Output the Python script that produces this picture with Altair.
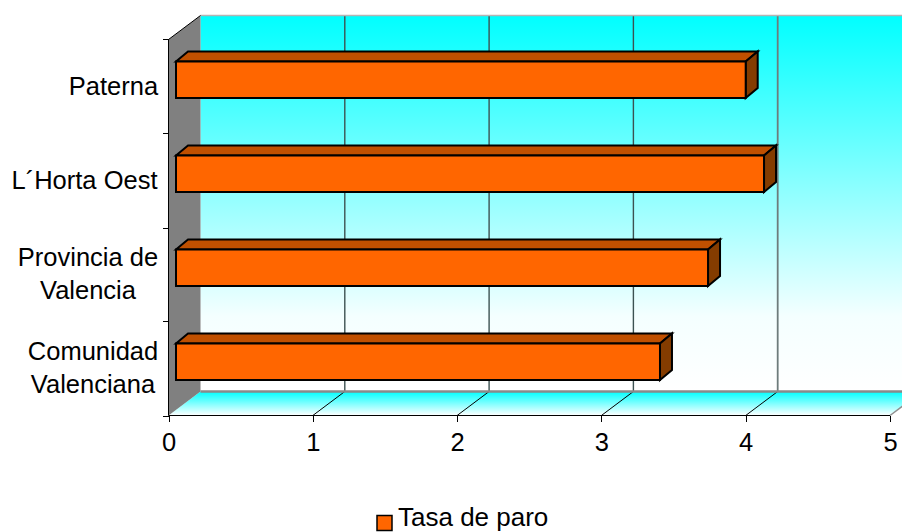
import altair as alt
import pandas as pd

# --- data ---
categories = ["Comunidad\nValenciana", "Provincia de\nValencia", "L´Horta Oest", "Paterna"]
values = [3.354, 3.687, 4.075, 3.948]
series_name = "Tasa de paro"
x_ticks = [0, 1, 2, 3, 4, 5]
y_ticks = [0, 1, 2, 3, 4]

# --- layout (scale calibration and pseudo-3D depth) ---
W, H = 894, 524
PX_PER_X, PX_PER_Y = 144.3, 94.0
X0_PX, Y0_PX = 160.5, 407.5
FONT = "Liberation Sans"
FS = 25.5
LINE_H = 33
DX, DY = 32 / PX_PER_X, 24 / PX_PER_Y            # wall depth
BDX, BDY = 12 / PX_PER_X, 10 / PX_PER_Y          # bar depth
BX0 = 7.5 / PX_PER_X                             # bar start
BY0, BH = 35.5 / PX_PER_Y, 36.6 / PX_PER_Y       # bar bottom, height
label_center_px = [85, 80, 76.5, 105.5]          # canvas px of each label block's centre

xs = alt.Scale(domain=[-X0_PX / PX_PER_X, (W - X0_PX) / PX_PER_X], range=[0, W], nice=False, zero=False)
ys = alt.Scale(domain=[(Y0_PX - H) / PX_PER_Y, Y0_PX / PX_PER_Y], range=[H, 0], nice=False, zero=False)

x_axis = alt.Axis(
    values=x_ticks, title=None, domain=False, grid=False, orient="bottom",
    offset=Y0_PX - H, tickSize=6, tickColor="black", labelFont=FONT, labelFontSize=FS,
    labelColor="black", labelPadding=9, labelFlush=False, labelOverlap=False,
    format="d", zindex=1)
y_axis = alt.Axis(
    values=y_ticks, title=None, domain=False, grid=False, orient="left",
    offset=-X0_PX, tickSize=6, tickColor="black", labels=False, zindex=1)


def X(f="x"):
    return alt.X(f, type="quantitative", scale=xs, axis=x_axis, stack=None)


def Y(f="y"):
    return alt.Y(f, type="quantitative", scale=ys, axis=y_axis, stack=None)


def segs(rows):
    return pd.DataFrame(rows, columns=["x", "x2", "y", "y2"])


def rule(rows, **kw):
    return alt.Chart(segs(rows)).mark_rule(**kw).encode(x=X(), x2="x2", y=Y(), y2="y2")


def grad(*stops):
    return alt.LinearGradient(
        gradient="linear", x1=0, x2=0, y1=0, y2=1,
        stops=[alt.GradientStop(offset=o, color=c) for o, c in stops],
    )


top_y = y_ticks[-1] + DY
right = x_ticks[-1] + DX

# back wall
back = alt.Chart(pd.DataFrame([dict(x=DX, x2=right, y=DY, y2=top_y)])).mark_rect(
    fill=grad((0, "#00FFFF"), (0.8, "#F4FFFF"), (1, "#FFFFFF"))
).encode(x=X(), x2="x2", y=Y(), y2="y2")

# gridlines on the back wall
grid_lines = rule([(t + DX, t + DX, DY, top_y) for t in x_ticks[1:4]], color="#3C5252", strokeWidth=1.4)
grid_last = rule([(x_ticks[4] + DX, x_ticks[4] + DX, DY, top_y)], color="#6E7C7C", strokeWidth=1.8)

# floor
floor_df = pd.DataFrame([dict(y=0, x=0, x2=x_ticks[-1]), dict(y=DY, x=DX, x2=right)])
floor = alt.Chart(floor_df).mark_area(
    orient="horizontal", fill=grad((0, "#00FFFF"), (1, "#FFFFFF"))
).encode(y=Y(), x=X(), x2="x2")
floor_diag = rule([(t, t + DX, 0, DY) for t in x_ticks[1:5]], color="black", strokeWidth=1)
floor_edge = rule([(x_ticks[-1], right, 0, DY)], color="#909090", strokeWidth=1.5)
wall_top_line = rule([(DX, right, top_y, top_y)], color="#B4B4B4", strokeWidth=1.5)
wall_bottom_line = rule([(DX, right, DY, DY)], color="#8A8A8A", strokeWidth=2.6)

# left wall
left_df = pd.DataFrame([dict(x=0, y=0, y2=y_ticks[-1]), dict(x=DX, y=DY, y2=top_y)])
left = alt.Chart(left_df).mark_area(orient="vertical", fill="#808080").encode(x=X(), y=Y(), y2="y2")
left_top = rule([(0, DX, y_ticks[-1], top_y)], color="black", strokeWidth=1)

# bars
top_rows, side_rows, front_rows = [], [], []
for i, (c, v) in enumerate(zip(categories, values)):
    yb, yt = i + BY0, i + BY0 + BH
    x1 = BX0 + v
    front_rows.append(dict(x=BX0, x2=x1, y=yb, y2=yt))
    top_rows += [dict(c=c, y=yt, x=BX0, x2=x1), dict(c=c, y=yt + BDY, x=BX0 + BDX, x2=x1 + BDX)]
    side_rows += [dict(c=c, x=x1, y=yb, y2=yt), dict(c=c, x=x1 + BDX, y=yb + BDY, y2=yt + BDY)]

EDGE = dict(stroke="black", strokeWidth=2)
bar_top = alt.Chart(pd.DataFrame(top_rows)).mark_area(orient="horizontal", fill="#C05000", **EDGE).encode(
    y=Y(), x=X(), x2="x2", detail="c:N")
bar_side = alt.Chart(pd.DataFrame(side_rows)).mark_area(orient="vertical", fill="#843C00", **EDGE).encode(
    x=X(), y=Y(), y2="y2", detail="c:N")
bar_front = alt.Chart(pd.DataFrame(front_rows)).mark_rect(fill="#FF6600", **EDGE).encode(
    x=X(), x2="x2", y=Y(), y2="y2")

# axis lines
axis_lines = rule([(0, x_ticks[-1], 0, 0), (0, 0, 0, y_ticks[-1])], color="black", strokeWidth=1)

# category labels: Vega anchors a multi-line block by its first line, so lift it by half the extra lines
lab_df = pd.DataFrame(dict(
    x=[(p - X0_PX) / PX_PER_X for p in label_center_px],
    y=[i + 0.5 + c.count("\n") * LINE_H / 2 / PX_PER_Y for i, c in enumerate(categories)],
    t=categories,
))
cat_labels = alt.Chart(lab_df).mark_text(
    font=FONT, fontSize=FS, color="black", align="center", baseline="middle", lineBreak="\n", lineHeight=LINE_H
).encode(x=X(), y=Y(), text="t:N")

# legend: swatch sits lower than the text's centre, as in the reference
leg_df = pd.DataFrame(dict(name=[series_name]))
leg_swatch = alt.Chart(leg_df).mark_square(size=225, fill="#FF6600", stroke="black", strokeWidth=1.5, opacity=1).encode(
    x=alt.value(376.5), y=alt.value(515))
leg_text = alt.Chart(leg_df).mark_text(
    font=FONT, fontSize=26, color="black", align="left", baseline="alphabetic"
).encode(x=alt.value(390), y=alt.value(518), text="name:N")

chart = alt.layer(
    back, grid_lines, grid_last, floor, floor_diag, floor_edge, wall_top_line, wall_bottom_line,
    left, left_top, bar_top, bar_side, bar_front, axis_lines, cat_labels, leg_swatch, leg_text,
).properties(
    width=W, height=H, padding=0, background="white",
    autosize=alt.AutoSizeParams(type="none"),
).configure_view(stroke=None)

chart.save("out.html", embed_options={"renderer": "svg", "actions": False})
